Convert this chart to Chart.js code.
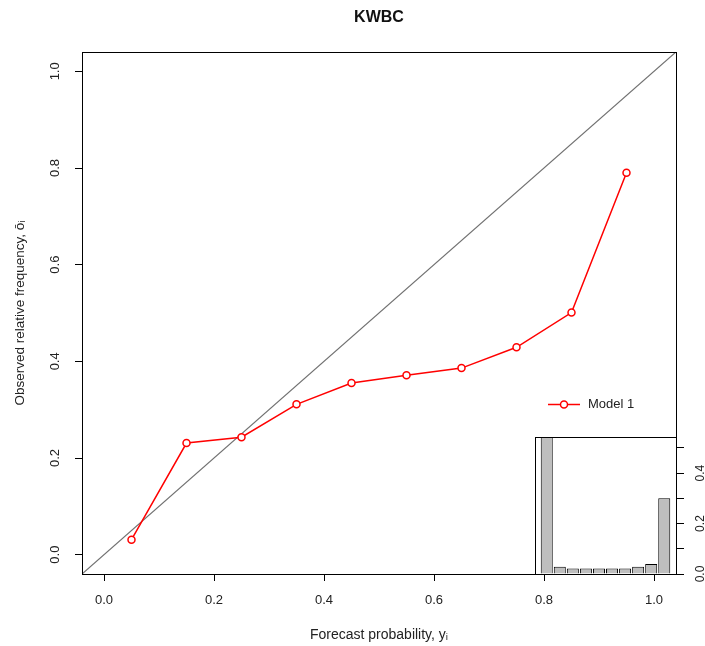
<!DOCTYPE html>
<html><head><meta charset="utf-8">
<script src="https://cdn.jsdelivr.net/npm/chart.js@4.4.1/dist/chart.umd.min.js"></script>
<style>
html,body{margin:0;padding:0;background:#fff;}
#wrap{position:relative;width:705px;height:646px;overflow:hidden;}
#main{position:absolute;left:0;top:0;}
#inset{position:absolute;left:520px;top:425px;}
</style></head><body>
<div id="wrap">
<canvas id="main" width="705" height="646"></canvas>
<canvas id="inset" width="185" height="160"></canvas>
</div>
<script>
// ---- data ----
const chartTitle = 'KWBC';
const seriesName = 'Model 1';
const forecastProb = [0.05, 0.15, 0.25, 0.35, 0.45, 0.55, 0.65, 0.75, 0.85, 0.95];
const observedFreq = [0.031, 0.231, 0.243, 0.311, 0.355, 0.371, 0.386, 0.429, 0.501, 0.790];
const axisTicks = [0.0, 0.2, 0.4, 0.6, 0.8, 1.0];
const axisRange = [-0.04, 1.04];
const histBinCenters = [0.05, 0.15, 0.25, 0.35, 0.45, 0.55, 0.65, 0.75, 0.85, 0.95];
const histFreq = [0.60, 0.029, 0.022, 0.022, 0.022, 0.022, 0.022, 0.029, 0.040, 0.300];
const histTicks = [0.0, 0.1, 0.2, 0.3, 0.4, 0.5];
const histTickLabels = ['0.0', '', '0.2', '', '0.4', ''];
const histRange = [0, 0.543];
const xTitle = 'Forecast probability, y\u1D62';
const yTitle = 'Observed relative frequency, \u014D\u1D62';

// ---- styling ----
const FONT = "'Liberation Sans', Arial, Helvetica, sans-serif";
Chart.defaults.font.family = FONT;
Chart.defaults.color = '#222';

const boxPlugin = {
  id: 'box',
  beforeDraw(chart, args, opts) {
    if (!opts.fill) return;
    const {ctx, chartArea: a} = chart;
    ctx.save(); ctx.fillStyle = '#fff';
    ctx.fillRect(a.left, a.top, a.right - a.left, a.bottom - a.top);
    ctx.restore();
  },
  afterDraw(chart) {
    const {ctx, chartArea: a} = chart;
    ctx.save(); ctx.strokeStyle = '#000'; ctx.lineWidth = 1;
    ctx.strokeRect(Math.round(a.left) + 0.5, Math.round(a.top) + 0.5,
                   Math.round(a.right - a.left), Math.round(a.bottom - a.top));
    ctx.restore();
  }
};

const plotTitlePlugin = {
  id: 'plotTitle',
  afterDraw(chart, args, opts) {
    const {ctx, chartArea: a} = chart;
    ctx.save();
    ctx.fillStyle = '#111';
    ctx.font = 'bold 16px ' + FONT;
    ctx.textAlign = 'center'; ctx.textBaseline = 'middle';
    ctx.fillText(opts.text, (a.left + a.right) / 2, 18);
    ctx.restore();
  }
};

const legendPlugin = {
  id: 'cornerLegend',
  afterDatasetsDraw(chart) {
    const ds = chart.data.datasets[0];
    const {ctx, chartArea: a} = chart;
    const y = a.top + 352.5;
    const x0 = a.right - 128, x1 = a.right - 96, xm = (x0 + x1) / 2;
    ctx.save();
    ctx.strokeStyle = ds.borderColor; ctx.lineWidth = ds.borderWidth;
    ctx.beginPath(); ctx.moveTo(x0, y); ctx.lineTo(x1, y); ctx.stroke();
    ctx.beginPath(); ctx.arc(xm, y, ds.pointRadius, 0, Math.PI * 2);
    ctx.fillStyle = '#fff'; ctx.fill();
    ctx.lineWidth = ds.pointBorderWidth; ctx.stroke();
    ctx.fillStyle = '#222'; ctx.font = '13px ' + FONT;
    ctx.textBaseline = 'middle'; ctx.textAlign = 'left';
    ctx.fillText(ds.label, x1 + 8, y);
    ctx.restore();
  }
};

const fmt = v => Number(v).toFixed(1);

new Chart(document.getElementById('main'), {
  type: 'line',
  data: {
    datasets: [
      {
        label: seriesName,
        data: forecastProb.map((x, i) => ({x, y: observedFreq[i]})),
        borderColor: '#ff0000', borderWidth: 1.5,
        pointRadius: 3.5, pointBorderWidth: 1.5,
        pointBackgroundColor: '#fff', pointBorderColor: '#ff0000',
        tension: 0
      },
      {
        label: 'diag',
        data: axisRange.map(v => ({x: v, y: v})),
        borderColor: '#707070', borderWidth: 1.2, pointRadius: 0
      }
    ]
  },
  options: {
    responsive: false, animation: false,
    layout: {padding: {left: 0, right: 29, top: 52, bottom: 0}},
    plugins: {
      legend: {display: false}, tooltip: {enabled: false},
      title: {display: false},
      plotTitle: {text: chartTitle},
      box: {fill: false}
    },
    scales: {
      x: {
        type: 'linear', min: axisRange[0], max: axisRange[1],
        afterFit(s) { s.height = 72; },
        afterBuildTicks(s) { s.ticks = axisTicks.map(v => ({value: v})); },
        ticks: {callback: fmt, font: {size: 13}, padding: 12, autoSkip: false, maxRotation: 0},
        grid: {drawOnChartArea: false, drawTicks: true, tickLength: 7, color: '#000'},
        border: {display: true, color: '#000'},
        title: {display: true, text: xTitle, font: {size: 14}, color: '#222', padding: {top: 0, bottom: 2}}
      },
      y: {
        type: 'linear', min: axisRange[0], max: axisRange[1],
        afterFit(s) { s.width = 82; },
        afterBuildTicks(s) { s.ticks = axisTicks.map(v => ({value: v})); },
        ticks: {callback: fmt, font: {size: 13}, padding: 11, minRotation: 90, maxRotation: 90, crossAlign: 'center', autoSkip: false},
        grid: {drawOnChartArea: false, drawTicks: true, tickLength: 7, color: '#000'},
        border: {display: true, color: '#000'},
        title: {display: true, text: yTitle, font: {size: 13.5}, color: '#222', padding: {top: 12, bottom: 0}}
      }
    }
  },
  plugins: [boxPlugin, legendPlugin, plotTitlePlugin]
});

new Chart(document.getElementById('inset'), {
  type: 'bar',
  data: {
    datasets: [{
      data: histBinCenters.map((x, i) => ({x, y: histFreq[i]})),
      backgroundColor: '#bebebe', borderColor: '#000', borderWidth: 1,
      barPercentage: 0.92, categoryPercentage: 1
    }]
  },
  options: {
    responsive: false, animation: false,
    layout: {padding: {left: 15, top: 12, bottom: 11, right: 0}},
    plugins: {legend: {display: false}, tooltip: {enabled: false}, box: {fill: true}},
    scales: {
      x: {type: 'linear', min: axisRange[0], max: axisRange[1], display: false, offset: false},
      y: {
        type: 'linear', position: 'right', min: histRange[0], max: histRange[1],
        afterFit(s) { s.width = 29; s.paddingTop = 0; s.paddingBottom = 0; },
        afterBuildTicks(s) { s.ticks = histTicks.map(v => ({value: v})); },
        ticks: {callback: (v, i) => histTickLabels[i], font: {size: 12}, padding: 8,
                minRotation: 90, maxRotation: 90, crossAlign: 'center', autoSkip: false},
        grid: {drawOnChartArea: false, drawTicks: true, tickLength: 8, color: '#000'},
        border: {display: true, color: '#000'}
      }
    }
  },
  plugins: [boxPlugin]
});
</script>
</body></html>
